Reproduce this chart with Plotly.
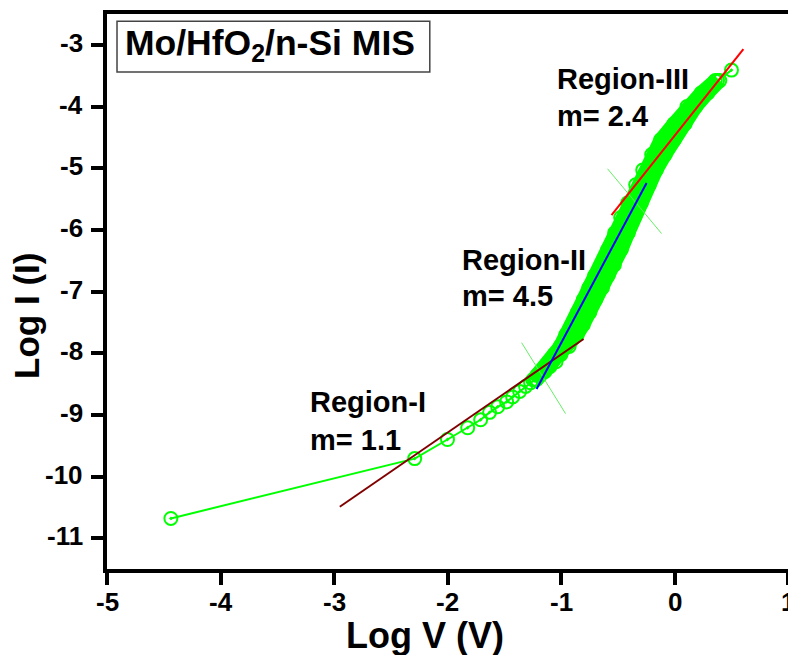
import plotly.graph_objects as go

log_v = [-4.437, -2.289, -2.0, -1.822, -1.708, -1.629, -1.558, -1.479, -1.426, -1.364,
         -1.312, -1.268, -1.232, -1.197, -1.162, -1.118, -1.074, -1.030, -0.968, -0.907,
         -0.854, -0.801, -0.748, -0.695, -0.643, -0.590, -0.528, -0.467, -0.414, -0.352,
         -0.282, -0.220, -0.141, -0.062, 0.044, 0.150, 0.264, 0.379, 0.502]
log_i = [-10.68, -9.71, -9.40, -9.21, -9.08, -8.96, -8.87, -8.79, -8.71, -8.62,
         -8.54, -8.48, -8.43, -8.36, -8.30, -8.22, -8.14, -8.02, -7.89, -7.70,
         -7.54, -7.34, -7.13, -6.94, -6.74, -6.57, -6.32, -6.05, -5.80, -5.56,
         -5.27, -5.03, -4.78, -4.54, -4.28, -4.00, -3.78, -3.58, -3.41]

# dense band (two sweep branches) in Region II/III
band_i = [-8.43, -8.36, -8.30, -8.22, -8.14, -8.02, -7.89, -7.70, -7.54, -7.34,
          -7.13, -6.94, -6.74, -6.57, -6.32, -6.05, -5.80, -5.56, -5.27, -5.03,
          -4.78, -4.54, -4.28, -4.00, -3.78, -3.58]
band_v_upper = [-1.247, -1.212, -1.182, -1.138, -1.104, -1.060, -1.008, -0.957, -0.904, -0.856,
                -0.803, -0.755, -0.703, -0.650, -0.588, -0.527, -0.474, -0.412, -0.342, -0.280,
                -0.201, -0.122, -0.006, 0.110, 0.234, 0.359]
band_v_lower = [-1.217, -1.182, -1.142, -1.098, -1.044, -1.000, -0.928, -0.857, -0.804, -0.746,
                -0.693, -0.635, -0.583, -0.530, -0.468, -0.407, -0.354, -0.292, -0.222, -0.160,
                -0.081, -0.002, 0.094, 0.190, 0.294, 0.399]

# Linear fits for the three regions (endpoints)
fit1_v = [-2.949, -0.801]
fit1_i = [-10.49, -7.77]
fit2_v = [-1.215, -0.246]
fit2_i = [-8.58, -5.24]
fit3_v = [-0.555, 0.607]
fit3_i = [-5.76, -3.07]

# Region boundary marks
mark1_v = [-1.347, -0.960]
mark1_i = [-7.83, -8.98]
mark2_v = [-0.590, -0.114]
mark2_i = [-5.01, -6.06]

region_labels = ["Region-I", "Region-II", "Region-III"]
slope_labels = ["m= 1.1", "m= 4.5", "m= 2.4"]
label_v = [-3.231, -1.893, -1.056]
label_i_name = [-8.79, -6.485, -3.55]
label_i_slope = [-9.40, -7.08, -4.15]

x_ticks = [-5, -4, -3, -2, -1, 0, 1]
x_tick_labels = ["-5", "-4", "-3", "-2", "-1", "0", "1"]
y_ticks = [-11, -10, -9, -8, -7, -6, -5, -4, -3]
y_tick_labels = ["-11", "-10", "-9", "-8", "-7", "-6", "-5", "-4", "-3"]

GREEN = "#00ff00"
FONT = "Liberation Sans, Arial, sans-serif"

fig = go.Figure()

for bx in (band_v_upper, band_v_lower):
    fig.add_trace(go.Scatter(x=bx, y=band_i, mode="lines+markers",
                             line=dict(color=GREEN, width=14),
                             marker=dict(symbol="circle-open", size=13, color=GREEN,
                                         line=dict(width=2, color=GREEN)),
                             showlegend=False, hoverinfo="skip"))

fig.add_trace(go.Scatter(x=log_v, y=log_i, mode="lines+markers",
                         line=dict(color=GREEN, width=2),
                         marker=dict(symbol="circle-open-dot", size=13, color=GREEN,
                                     line=dict(width=2, color=GREEN)),
                         showlegend=False))

for mv, mi in ((mark1_v, mark1_i), (mark2_v, mark2_i)):
    fig.add_trace(go.Scatter(x=mv, y=mi, mode="lines",
                             line=dict(color="#66ee66", width=1), showlegend=False))

for fv, fi, col in ((fit1_v, fit1_i, "#800000"), (fit2_v, fit2_i, "#0000ff"),
                    (fit3_v, fit3_i, "#ff0000")):
    fig.add_trace(go.Scatter(x=fv, y=fi, mode="lines",
                             line=dict(color=col, width=2), showlegend=False))

annotations = []
for name, slope, lv, li1, li2 in zip(region_labels, slope_labels, label_v,
                                     label_i_name, label_i_slope):
    annotations.append(dict(x=lv, y=li1, xref="x", yref="y", text="<b>%s</b>" % name,
                            showarrow=False, xanchor="left", yanchor="middle",
                            font=dict(family=FONT, size=29, color="black")))
    annotations.append(dict(x=lv, y=li2, xref="x", yref="y", text="<b>%s</b>" % slope,
                            showarrow=False, xanchor="left", yanchor="middle",
                            font=dict(family=FONT, size=29, color="black")))

# bold tick labels
for v, t in zip(x_ticks, x_tick_labels):
    annotations.append(dict(x=v, y=0, xref="x", yref="paper", text="<b>%s</b>" % t,
                            showarrow=False, xanchor="center", yanchor="middle",
                            yshift=-33, font=dict(family=FONT, size=26, color="black")))
for v, t in zip(y_ticks, y_tick_labels):
    annotations.append(dict(x=0, y=v, xref="paper", yref="y", text="<b>%s</b>" % t,
                            showarrow=False, xanchor="right", yanchor="middle",
                            xshift=-22, yshift=2,
                            font=dict(family=FONT, size=26, color="black")))

annotations.append(dict(x=0.0234, y=0.945, xref="paper", yref="paper",
                        text="<b>Mo/HfO<sub>2</sub>/n-Si MIS</b>", showarrow=False,
                        xanchor="left", yanchor="middle",
                        font=dict(family=FONT, size=35.5, color="black")))
annotations.append(dict(x=0.467, y=-0.119, xref="paper", yref="paper",
                        text="<b>Log V (V)</b>", showarrow=False,
                        xanchor="center", yanchor="middle",
                        font=dict(family=FONT, size=36, color="black")))
annotations.append(dict(x=-0.1175, y=0.456, xref="paper", yref="paper",
                        text="<b>Log I (I)</b>", showarrow=False, textangle=-90,
                        xanchor="center", yanchor="middle",
                        font=dict(family=FONT, size=35, color="black")))

fig.add_shape(type="rect", xref="paper", yref="paper", x0=0.0147, x1=0.474,
              y0=0.8955, y1=0.987, line=dict(color="#444444", width=1.5))

axis_common = dict(showgrid=False, zeroline=False, showline=True, linecolor="black",
                   linewidth=3.5, ticks="outside", ticklen=12, tickwidth=3.5,
                   tickcolor="black", showticklabels=False)

fig.update_layout(
    width=788, height=655,
    margin=dict(l=107, r=0, t=14, b=86),
    plot_bgcolor="white", paper_bgcolor="white",
    xaxis=dict(range=[-5, 1.0], tickvals=x_ticks, mirror=True, **axis_common),
    yaxis=dict(range=[-11.5, -2.5], tickvals=y_ticks, mirror=False, **axis_common),
    annotations=annotations,
    showlegend=False,
)

fig.write_html("out.html")
